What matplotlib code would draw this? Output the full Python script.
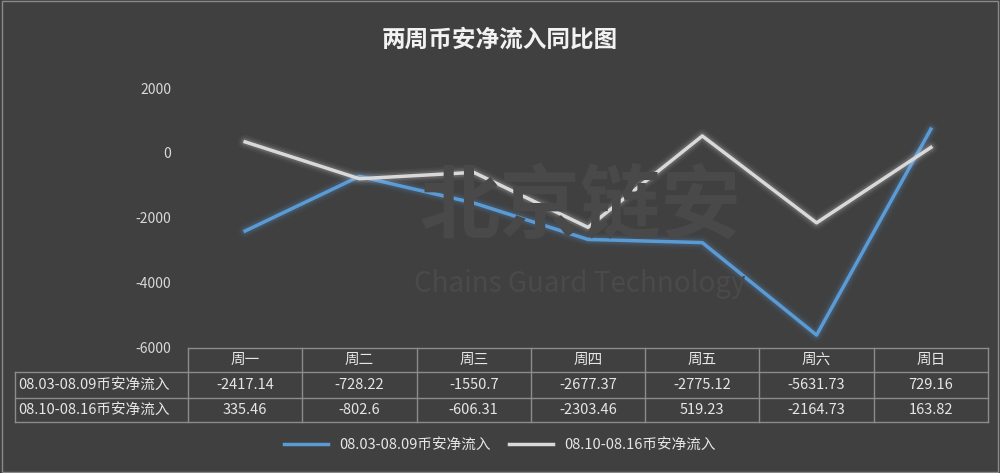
import matplotlib
matplotlib.use("Agg")
import matplotlib.pyplot as plt
from matplotlib.lines import Line2D
from matplotlib.patches import Rectangle

plt.rcParams['font.family'] = ['Noto Sans CJK SC', 'DejaVu Sans']

categories = ["周一", "周二", "周三", "周四", "周五", "周六", "周日"]
s1_name = "08.03-08.09币安净流入"
s2_name = "08.10-08.16币安净流入"
s1 = [-2417.14, -728.22, -1550.7, -2677.37, -2775.12, -5631.73, 729.16]
s2 = [335.46, -802.6, -606.31, -2303.46, 519.23, -2164.73, 163.82]
s1_lbl = ["-2417.14", "-728.22", "-1550.7", "-2677.37", "-2775.12", "-5631.73", "729.16"]
s2_lbl = ["335.46", "-802.6", "-606.31", "-2303.46", "519.23", "-2164.73", "163.82"]
yticks = [2000, 0, -2000, -4000, -6000]

W, H = 1000, 473
bg = "#404040"
fig = plt.figure(figsize=(W/100, H/100), dpi=100, facecolor=bg)
fig.patches.append(Rectangle((0.002, 0.002), 0.996, 0.996, transform=fig.transFigure,
                             fill=False, edgecolor="#8a8a8a", lw=1))

def fx(x): return x / W
def fy(y): return 1 - y / H

L, R, T, B = 188, 988, 88, 347
ax = fig.add_axes([fx(L), fy(B), fx(R) - fx(L), fy(T) - fy(B)])
ax.set_facecolor(bg)
ax.set_xlim(-0.5, 6.5)
ax.set_ylim(-6000, 2000)
for s in ax.spines.values():
    s.set_visible(False)
ax.set_xticks([])
ax.set_yticks(yticks)
ax.set_yticklabels([str(v) for v in yticks], color="#d9d9d9", fontsize=10)
ax.tick_params(axis='y', length=0, pad=12)

# watermark
fig.text(0.58, 0.56, "北京链安", fontsize=58, color="#494949", ha="center", va="center", weight="bold")
fig.text(0.58, 0.40, "Chains Guard Technology", fontsize=20, color="#4a4a4a", ha="center", va="center")

x = list(range(len(categories)))
for data, col in [(s1, "#5B9BD5"), (s2, "#D9D9D9")]:
    for lw, a in [(10, 0.05), (7, 0.08), (5, 0.12)]:
        ax.plot(x, data, color=col, lw=lw, alpha=a, solid_capstyle="round", solid_joinstyle="round")
    ax.plot(x, data, color=col, lw=2.5, solid_joinstyle="round")

# table
lc = "#8c8c8c"
rows_y = [348, 372, 398, 422]
TL = 15
def hline(y, x0, x1):
    fig.add_artist(Line2D([fx(x0), fx(x1)], [fy(y), fy(y)], color=lc, lw=1))
def vline(xp, y0, y1):
    fig.add_artist(Line2D([fx(xp), fx(xp)], [fy(y0), fy(y1)], color=lc, lw=1))
hline(rows_y[0], L, R)
for y in rows_y[1:]:
    hline(y, TL, R)
vline(TL, rows_y[1], rows_y[3])
colw = (R - L) / 7
for i in range(8):
    vline(L + i * colw, rows_y[0], rows_y[3])
tc = "#e6e6e6"
for i, c in enumerate(categories):
    cx = L + (i + 0.5) * colw
    fig.text(fx(cx), fy((rows_y[0] + rows_y[1]) / 2), c, ha="center", va="center", color=tc, fontsize=10.5)
    fig.text(fx(cx), fy((rows_y[1] + rows_y[2]) / 2), s1_lbl[i], ha="center", va="center", color=tc, fontsize=10.5)
    fig.text(fx(cx), fy((rows_y[2] + rows_y[3]) / 2), s2_lbl[i], ha="center", va="center", color=tc, fontsize=10.5)
fig.text(fx(TL + 3), fy((rows_y[1] + rows_y[2]) / 2), s1_name, ha="left", va="center", color=tc, fontsize=10.5)
fig.text(fx(TL + 3), fy((rows_y[2] + rows_y[3]) / 2), s2_name, ha="left", va="center", color=tc, fontsize=10.5)

# title
fig.text(0.5, fy(40), "两周币安净流入同比图", ha="center", va="center", color="#f2f2f2", fontsize=17, weight="bold")

# legend
handles = [Line2D([], [], color="#5B9BD5", lw=2.5), Line2D([], [], color="#D9D9D9", lw=2.5)]
leg = fig.legend(handles, [s1_name, s2_name], loc="center", bbox_to_anchor=(0.5, fy(445)),
                 ncol=2, frameon=False, fontsize=10.5, labelcolor=tc, handlelength=3, columnspacing=1.2)

fig.savefig("out.png", dpi=100, facecolor=bg)
